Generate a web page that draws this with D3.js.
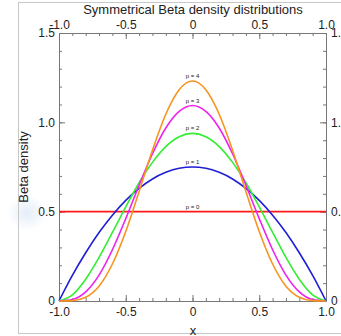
<html>
<head>
<script src="https://d3js.org/d3.v7.min.js"></script>
<style>
  body { margin: 0; background: white; }
  text { font-family: "Liberation Sans", Arial, sans-serif; fill: #222; }
  .axis path, .axis line { stroke: #777; }
</style>
</head>
<body>
<svg id="chart" width="341" height="336"></svg>
<script>
const xs = [-1.0, -0.9, -0.8, -0.7, -0.6, -0.5, -0.4, -0.3, -0.2, -0.1, 0,
             0.1,  0.2,  0.3,  0.4,  0.5,  0.6,  0.7,  0.8,  0.9, 1.0];

const p0 = [0.5, 0.5, 0.5, 0.5, 0.5, 0.5, 0.5, 0.5, 0.5, 0.5, 0.5,
            0.5, 0.5, 0.5, 0.5, 0.5, 0.5, 0.5, 0.5, 0.5, 0.5];
const p1 = [0, 0.143, 0.27, 0.383, 0.48, 0.563, 0.63, 0.683, 0.72, 0.743, 0.75,
            0.743, 0.72, 0.683, 0.63, 0.563, 0.48, 0.383, 0.27, 0.143, 0];
const p2 = [0, 0.034, 0.122, 0.244, 0.384, 0.527, 0.662, 0.776, 0.864, 0.919, 0.938,
            0.919, 0.864, 0.776, 0.662, 0.527, 0.384, 0.244, 0.122, 0.034, 0];
const p3 = [0, 0.008, 0.051, 0.145, 0.287, 0.461, 0.648, 0.824, 0.968, 1.061, 1.094,
            1.061, 0.968, 0.824, 0.648, 0.461, 0.287, 0.145, 0.051, 0.008, 0];
const p4 = [0, 0.002, 0.021, 0.083, 0.207, 0.389, 0.613, 0.844, 1.045, 1.182, 1.231,
            1.182, 1.045, 0.844, 0.613, 0.389, 0.207, 0.083, 0.021, 0.002, 0];

const seriesNames = ["p = 0", "p = 1", "p = 2", "p = 3", "p = 4"];
const seriesColors = ["#ff1a1a", "#1f1fd6", "#33ee33", "#ee22ee", "#f7941d"];
const seriesValues = [p0, p1, p2, p3, p4];

const xTicks = [-1.0, -0.5, 0, 0.5, 1.0];
const xTickLabels = ["-1.0", "-0.5", "0", "0.5", "1.0"];
const yTicks = [0, 0.5, 1.0, 1.5];
const yTickLabels = ["0", "0.5", "1.0", "1.5"];

const svg = d3.select("svg#chart");

// faint blob seen on the left side of the reference
const blob = svg.append("defs").append("radialGradient").attr("id", "blob");
blob.append("stop").attr("offset", "0%").attr("stop-color", "#e3edf8");
blob.append("stop").attr("offset", "100%").attr("stop-color", "#ffffff");
svg.append("ellipse").attr("cx", 27).attr("cy", 213).attr("rx", 20).attr("ry", 18)
   .attr("fill", "url(#blob)");

// outer frame
svg.append("rect").attr("x", 18.5).attr("y", 2.5).attr("width", 400).attr("height", 331)
   .attr("fill", "none").attr("stroke", "#c8c8c8");

const x = d3.scaleLinear().domain([-1, 1]).range([59, 326]);
const y = d3.scaleLinear().domain([0, 1.5]).range([301, 33]);

const minorX = d3.range(-1, 1.0001, 0.1);
const minorY = d3.range(0, 1.5001, 0.1);

// minor ticks (inward)
function minor(axis, vals, len, tr) {
  svg.append("g").attr("class", "axis").attr("transform", tr)
     .call(axis.tickValues(vals).tickSize(len).tickFormat(""))
     .call(g => g.select(".domain").remove());
}
minor(d3.axisBottom(x), minorX, -3, `translate(0,${y(0)})`);
minor(d3.axisTop(x), minorX, -3, `translate(0,${y(1.5)})`);
minor(d3.axisLeft(y), minorY, -3, `translate(${x(-1)},0)`);
minor(d3.axisRight(y), minorY, -3, `translate(${x(1)},0)`);

// major ticks and labels
const fmtX = (d, i) => xTickLabels[i];
const fmtY = (d, i) => yTickLabels[i];
svg.append("g").attr("class", "axis").attr("transform", `translate(0,${y(0)})`)
   .call(d3.axisBottom(x).tickValues(xTicks).tickFormat(fmtX).tickSize(-6).tickPadding(6).tickSizeOuter(0))
   .selectAll("text").attr("font-size", 12);
svg.append("g").attr("class", "axis").attr("transform", `translate(0,${y(1.5)})`)
   .call(d3.axisTop(x).tickValues(xTicks).tickFormat(fmtX).tickSize(-6).tickPadding(4).tickSizeOuter(0))
   .selectAll("text").attr("font-size", 12);
svg.append("g").attr("class", "axis").attr("transform", `translate(${x(-1)},0)`)
   .call(d3.axisLeft(y).tickValues(yTicks).tickFormat(fmtY).tickSize(-6).tickPadding(4).tickSizeOuter(0))
   .selectAll("text").attr("font-size", 12);
svg.append("g").attr("class", "axis").attr("transform", `translate(${x(1)},0)`)
   .call(d3.axisRight(y).tickValues(yTicks).tickFormat(fmtY).tickSize(-6).tickPadding(5).tickSizeOuter(0))
   .selectAll("text").attr("font-size", 12);
svg.selectAll(".axis text").attr("fill", "#222");

// curves
const line = d3.line().x((d, i) => x(xs[i])).y(d => y(d)).curve(d3.curveMonotoneX);
svg.append("g").selectAll("path").data(seriesValues).join("path")
   .attr("d", line)
   .attr("fill", "none")
   .attr("stroke", (d, i) => seriesColors[i])
   .attr("stroke-width", 1.6);

// peak labels
svg.append("g").selectAll("text").data(seriesValues).join("text")
   .attr("x", x(0))
   .attr("y", d => y(d3.max(d)) - 3)
   .attr("text-anchor", "middle")
   .attr("font-size", 6)
   .attr("fill", "#444")
   .text((d, i) => seriesNames[i]);

// titles
svg.append("text").attr("x", 193).attr("y", 14).attr("text-anchor", "middle")
   .attr("font-size", 13).text("Symmetrical Beta density distributions");
svg.append("text").attr("x", 193).attr("y", 335).attr("text-anchor", "middle")
   .attr("font-size", 13).text("x");
svg.append("text").attr("transform", "translate(28,167) rotate(-90)")
   .attr("text-anchor", "middle").attr("font-size", 13).text("Beta density");
</script>
</body>
</html>
